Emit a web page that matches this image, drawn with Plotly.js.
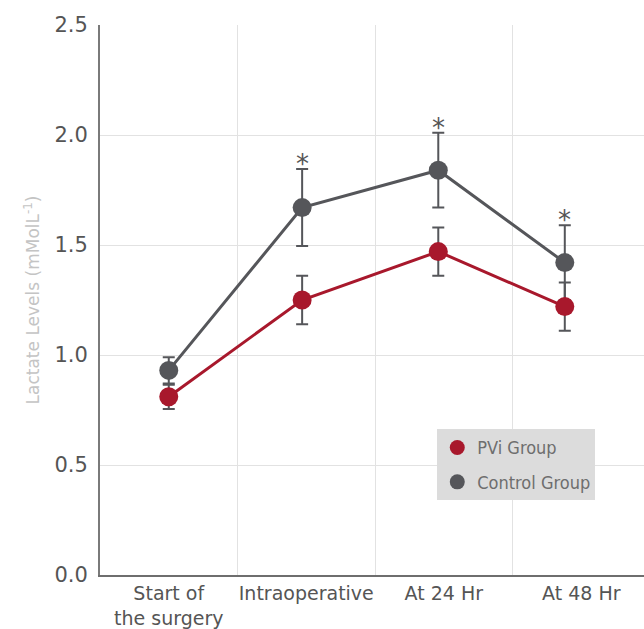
<!DOCTYPE html>
<html>
<head>
<meta charset="utf-8">
<script src="https://cdn.plot.ly/plotly-3.0.1.min.js"></script>
<style>
html,body{margin:0;padding:0;overflow:hidden;background:#fff;}
#chart{width:644px;height:629px;}
</style>
</head>
<body>
<div id="chart"></div>
<script>
// Data
var categories = ["Start of<br>the surgery", "Intraoperative", "At 24 Hr", "At 48 Hr"];
var categoryCenters = [0.5, 1.5, 2.5, 3.5];
var xPos = [0.5, 1.47, 2.46, 3.38];            // measured horizontal placement of the points
var pviMean = [0.81, 1.25, 1.47, 1.22];
var pviErr = [0.055, 0.11, 0.11, 0.11];
var controlMean = [0.93, 1.67, 1.84, 1.42];
var controlErr = [0.06, 0.175, 0.17, 0.17];
var significant = [false, true, true, true];
var seriesNames = ["PVi Group", "Control Group"];

var red = "#a8182c";
var gray = "#55565a";

var traces = [
  {
    x: xPos, y: controlMean, name: seriesNames[1], type: "scatter", mode: "lines+markers",
    line: {color: gray, width: 3}, marker: {color: gray, size: 19},
    error_y: {type: "data", array: controlErr, visible: true, color: gray, thickness: 2, width: 6},
    showlegend: false
  },
  {
    x: xPos, y: pviMean, name: seriesNames[0], type: "scatter", mode: "lines+markers",
    line: {color: red, width: 3}, marker: {color: red, size: 19},
    error_y: {type: "data", array: pviErr, visible: true, color: gray, thickness: 2, width: 6},
    showlegend: false
  },
  // legend entries (marker only, as in the reference legend)
  {x: [null], y: [null], name: seriesNames[0], type: "scatter", mode: "markers",
   marker: {color: red, size: 15}, legendgroup: "a", legendrank: 1},
  {x: [null], y: [null], name: seriesNames[1], type: "scatter", mode: "markers",
   marker: {color: gray, size: 15}, legendgroup: "b", legendrank: 2}
];

var annotations = [];
for (var i = 0; i < xPos.length; i++) {
  if (significant[i]) {
    annotations.push({
      x: xPos[i], y: controlMean[i] + controlErr[i], xref: "x", yref: "y",
      text: "*", showarrow: false, yanchor: "bottom", yshift: -12,
      font: {family: "DejaVu Sans, sans-serif", size: 26, color: "#555"}
    });
  }
}

var layout = {
  width: 644, height: 629,
  margin: {l: 100, r: 0, t: 25, b: 54},
  paper_bgcolor: "#fff", plot_bgcolor: "#fff",
  showlegend: true,
  legend: {
    x: 0.62, y: 0.265, xanchor: "left", yanchor: "top",
    bgcolor: "#dcdcdc", borderwidth: 0,
    font: {family: "DejaVu Sans Condensed, sans-serif", size: 18, color: "#6e6e6e"},
    itemsizing: "trace", tracegroupgap: 8, traceorder: "grouped"
  },
  xaxis: {
    range: [0, 3.956], tickvals: categoryCenters, ticktext: categories,
    showgrid: false, zeroline: false,
    minor: {tickvals: [1, 2, 3], showgrid: true, gridcolor: "#e2e2e2", gridwidth: 1, ticks: ""},
    showline: true, linecolor: "#6e6e6e", linewidth: 2,
    ticks: "", tickfont: {family: "DejaVu Sans, sans-serif", size: 19, color: "#555"}
  },
  yaxis: {
    range: [0, 2.5], dtick: 0.5, tickformat: ".1f",
    showgrid: true, gridcolor: "#e2e2e2", gridwidth: 1, zeroline: false,
    showline: true, linecolor: "#7a7a7a", linewidth: 2,
    ticks: "", ticklabelstandoff: 6,
    tickfont: {family: "DejaVu Sans, sans-serif", size: 21, color: "#555"},
    title: {text: "Lactate Levels (mMolL<sup>-1</sup>)", font: {family: "DejaVu Sans, sans-serif", size: 17, color: "#c4c4c4"}, standoff: 10}
  },
  annotations: annotations
};

Plotly.newPlot("chart", traces, layout, {displayModeBar: false, staticPlot: true});
</script>
</body>
</html>
